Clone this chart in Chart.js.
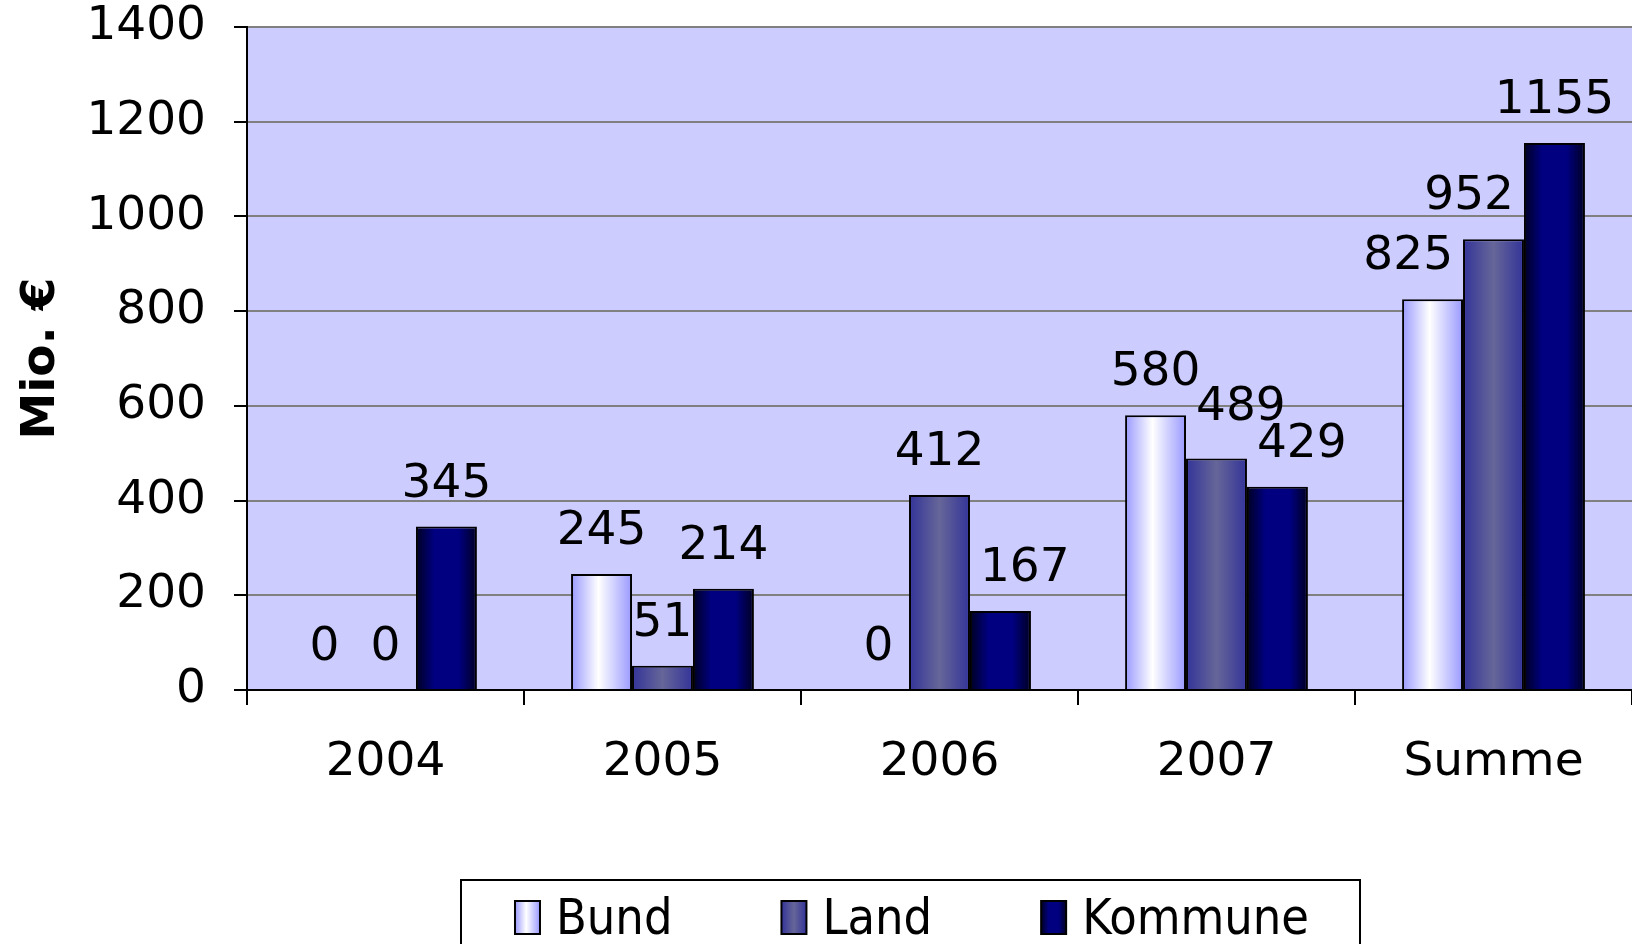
<!DOCTYPE html>
<html>
<head>
<meta charset="utf-8">
<script src="https://cdn.jsdelivr.net/npm/chart.js@4.4.1/dist/chart.umd.min.js"></script>
<style>
    html, body { margin: 0; padding: 0; background: #fff; overflow: hidden; }
    #wrap { position: relative; width: 1632px; height: 944px; }
</style>
</head>
<body>
<div id="wrap"><canvas id="chart"></canvas></div>
<script>
const categories = ['2004', '2005', '2006', '2007', 'Summe'];
const seriesNames = ['Bund', 'Land', 'Kommune'];
const bundValues = [0, 245, 0, 580, 825];
const landValues = [0, 51, 412, 489, 952];
const kommuneValues = [345, 214, 167, 429, 1155];
const yMin = 0;
const yMax = 1400;
const yStep = 200;
const yTitle = 'Mio. €';

// horizontal gradient stops per series (fake 3D cylinder look)
const seriesStops = [
    [[0, '#9999ff'], [0.45, '#ffffff'], [1, '#9999ff']],
    [[0, '#333399'], [0.5, '#666699'], [1, '#333399']],
    [[0, '#000022'], [0.3, '#000080'], [0.7, '#000080'], [1, '#000022']]
];

const FONT = '"DejaVu Sans", Verdana, sans-serif';
const CAT_PCT = 0.66;

function makeGradient(ctx, x0, x1, stops) {
    const g = ctx.createLinearGradient(x0, 0, x1, 0);
    for (const [pos, color] of stops) {
        g.addColorStop(pos, color);
    }
    return g;
}

function barFill(context) {
    const chart = context.chart;
    const xScale = chart.scales.x;
    const fallback = seriesStops[context.datasetIndex][1][1];
    if (!xScale || context.dataIndex === undefined) {
        return fallback;
    }
    const n = chart.data.datasets.length;
    const catWidth = xScale.width / categories.length;
    const barWidth = catWidth * CAT_PCT / n;
    const center = xScale.getPixelForValue(context.dataIndex);
    const x0 = center - catWidth * CAT_PCT / 2 + barWidth * context.datasetIndex;
    if (!isFinite(x0) || !isFinite(barWidth) || barWidth <= 0) {
        return fallback;
    }
    return makeGradient(chart.ctx, x0, x0 + barWidth, seriesStops[context.datasetIndex]);
}

const plotBackground = {
    id: 'plotBackground',
    beforeDraw(chart) {
        const {ctx, chartArea: a} = chart;
        ctx.save();
        ctx.fillStyle = '#ccccff';
        ctx.fillRect(a.left, a.top, a.right - a.left, a.bottom - a.top);
        ctx.restore();
    }
};

// value labels above bars; nudged sideways / upwards where they would
// run into a taller neighbouring bar or another label (like Excel does)
const valueLabels = {
    id: 'valueLabels',
    afterDatasetsDraw(chart) {
        const ctx = chart.ctx;
        const gap = 30, capH = 34, sideGap = 10, margin = 10;
        ctx.save();
        ctx.font = `47px ${FONT}`;
        ctx.fillStyle = '#000';
        ctx.textAlign = 'center';
        ctx.textBaseline = 'alphabetic';

        const nSets = chart.data.datasets.length;
        categories.forEach((cat, j) => {
            const bars = [];
            for (let i = 0; i < nSets; i++) {
                const el = chart.getDatasetMeta(i).data[j];
                const text = String(chart.data.datasets[i].data[j]);
                bars.push({
                    el, text,
                    left: el.x - el.width / 2,
                    right: el.x + el.width / 2,
                    top: el.y,
                    w: ctx.measureText(text).width,
                    cx: el.x,
                    base: el.y - gap
                });
            }
            // sideways: avoid a taller neighbouring bar
            bars.forEach((b, i) => {
                const boxTop = b.base - capH;
                const hits = nb => nb && b.base + margin > nb.top && boxTop < nb.el.base;
                const lNb = bars[i - 1], rNb = bars[i + 1];
                const hitL = hits(lNb) && b.cx - b.w / 2 < lNb.right;
                const hitR = hits(rNb) && b.cx + b.w / 2 > rNb.left;
                if (hitL && !hitR) {
                    b.cx = lNb.right + sideGap + b.w / 2;
                }
                else if (hitR && !hitL) {
                    b.cx = rNb.left - sideGap - b.w / 2;
                }
            });
            // upwards: avoid overlapping labels to the right
            for (let i = nSets - 2; i >= 0; i--) {
                const b = bars[i];
                for (let k = i + 1; k < nSets; k++) {
                    const o = bars[k];
                    const xOver = b.cx + b.w / 2 > o.cx - o.w / 2 && b.cx - b.w / 2 < o.cx + o.w / 2;
                    const yOver = b.base > o.base - capH && b.base - capH < o.base;
                    if (xOver && yOver) {
                        b.base = o.base - capH - 3;
                    }
                }
            }
            bars.forEach(b => ctx.fillText(b.text, b.cx, b.base));
        });
        ctx.restore();
    }
};

const boxedLegend = {
    id: 'boxedLegend',
    afterDraw(chart) {
        const ctx = chart.ctx;
        const swW = 25, swH = 33, textGap = 16, itemGap = 109;
        const center = 912, swTop = 901, baseline = 934;
        ctx.save();
        ctx.lineWidth = 2;
        ctx.strokeStyle = '#000';
        ctx.strokeRect(461, 880, 899, 90);
        ctx.font = '50px "DejaVu Sans Condensed", "DejaVu Sans", sans-serif';
        const widths = seriesNames.map(s => swW + textGap + ctx.measureText(s).width);
        const total = widths.reduce((a, b) => a + b, 0) + itemGap * (seriesNames.length - 1);
        let x = center - total / 2;
        seriesNames.forEach((name, i) => {
            ctx.fillStyle = makeGradient(ctx, x, x + swW, seriesStops[i]);
            ctx.fillRect(x, swTop, swW, swH);
            ctx.strokeStyle = '#000';
            ctx.lineWidth = 2;
            ctx.strokeRect(x, swTop, swW, swH);
            ctx.fillStyle = '#000';
            ctx.textBaseline = 'alphabetic';
            ctx.fillText(name, x + swW + textGap, baseline);
            x += widths[i] + itemGap;
        });
        ctx.restore();
    }
};

const seriesData = [bundValues, landValues, kommuneValues];

new Chart(document.getElementById('chart'), {
    type: 'bar',
    data: {
        labels: categories,
        datasets: seriesNames.map((name, i) => ({
            label: name,
            data: seriesData[i],
            backgroundColor: barFill,
            borderColor: '#000',
            borderWidth: ctx => (ctx.raw === 0 ? 0 : 2),
            borderSkipped: 'bottom',
            barPercentage: 1,
            categoryPercentage: CAT_PCT
        }))
    },
    options: {
        responsive: true,
        maintainAspectRatio: false,
        animation: false,
        layout: {
            padding: {top: 0, right: 0, bottom: 0, left: 0}
        },
        plugins: {
            legend: {display: false},
            tooltip: {enabled: false}
        },
        scales: {
            x: {
                afterFit(scale) {
                    scale.height = 254;
                },
                grid: {
                    display: true,
                    offset: true,
                    drawOnChartArea: false,
                    drawTicks: true,
                    tickLength: 15,
                    color: '#000',
                    tickColor: '#000',
                    lineWidth: 2
                },
                border: {color: '#000', width: 2},
                ticks: {
                    color: '#000',
                    font: {family: FONT, size: 47},
                    padding: 30,
                    maxRotation: 0
                }
            },
            y: {
                min: yMin,
                max: yMax,
                afterFit(scale) {
                    scale.width = 247;
                    scale.paddingTop = 27;
                    scale.paddingBottom = 0;
                },
                grid: {
                    color: '#808080',
                    tickColor: '#000',
                    tickLength: 13,
                    lineWidth: 2
                },
                border: {color: '#000', width: 2},
                ticks: {
                    stepSize: yStep,
                    color: '#000',
                    font: {family: FONT, size: 47},
                    padding: 28,
                    callback: value => String(value)
                },
                title: {
                    display: true,
                    text: yTitle,
                    color: '#000',
                    font: {family: FONT, size: 47, weight: 'bold'},
                    padding: {top: 14, bottom: 0}
                }
            }
        }
    },
    plugins: [plotBackground, valueLabels, boxedLegend]
});
</script>
</body>
</html>
